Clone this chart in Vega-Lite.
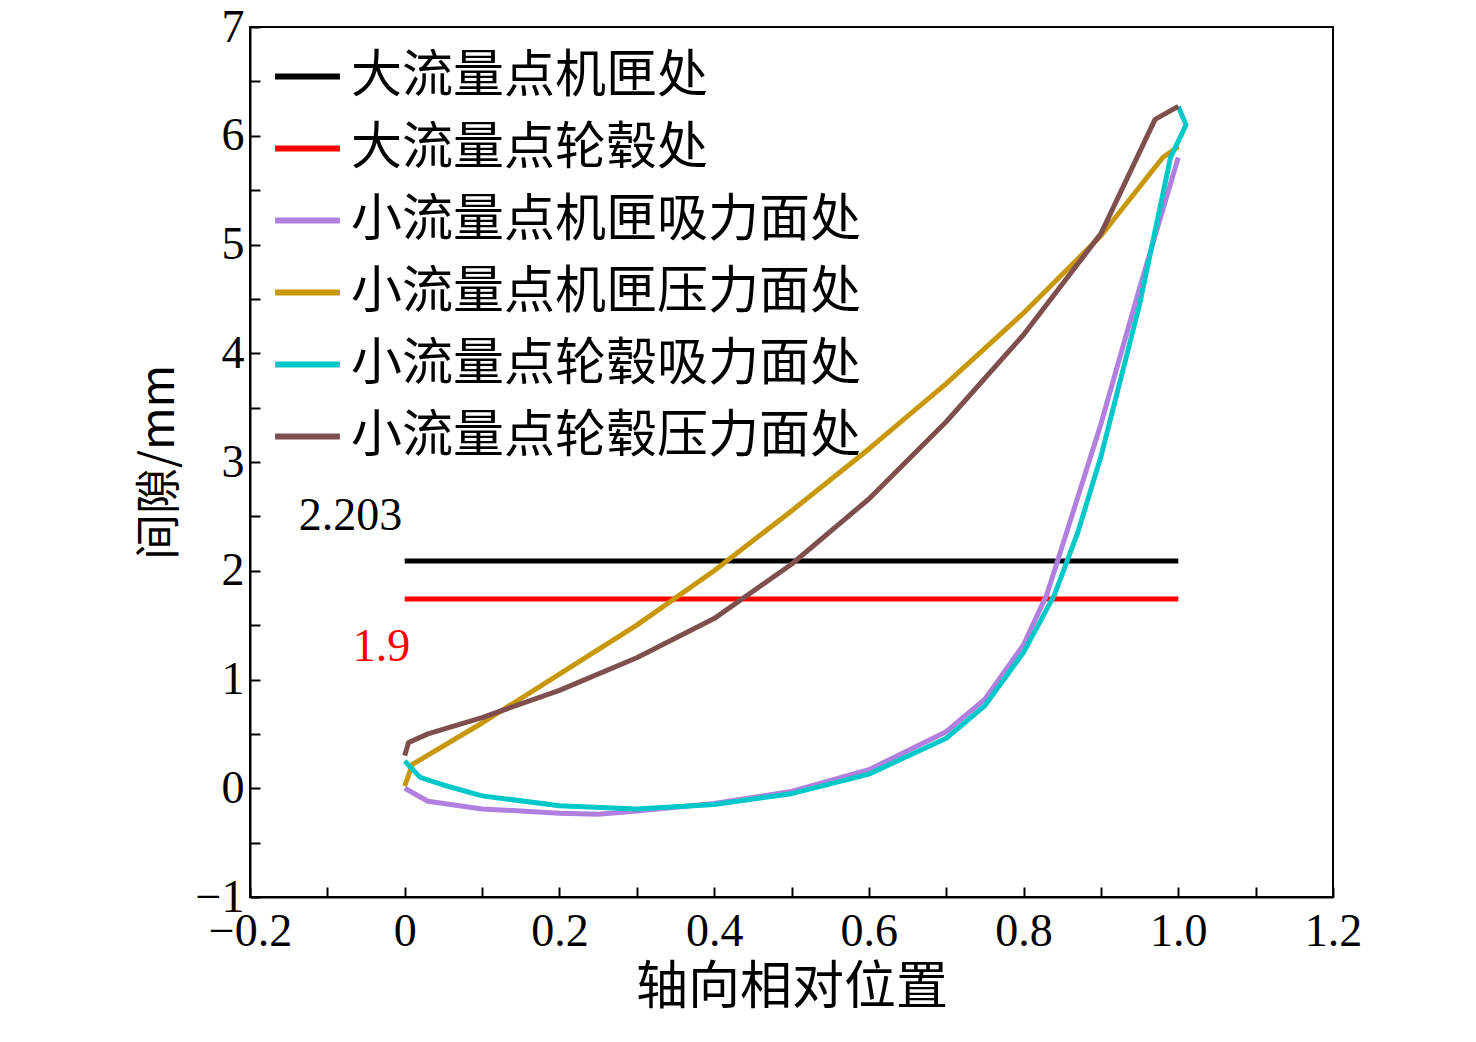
{
"$schema":"https://vega.github.io/schema/vega-lite/v6.json",
"width":1083,"height":870,
"autosize":{"type":"none"},
"padding":{"left":250,"top":27,"right":143,"bottom":145},
"background":"white",
"config":{"view":{"stroke":"black","strokeWidth":2},"font":"Liberation Serif"},
"datasets":{
"lines":[
{"s":"大流量点机匣处","i":0,"x":0,"y":2.09},{"s":"大流量点机匣处","i":1,"x":1,"y":2.09},
{"s":"大流量点轮毂处","i":0,"x":0,"y":1.74},{"s":"大流量点轮毂处","i":1,"x":1,"y":1.74},
{"s":"小流量点机匣吸力面处","i":0,"x":0,"y":0.0},{"s":"小流量点机匣吸力面处","i":1,"x":0.03,"y":-0.12},{"s":"小流量点机匣吸力面处","i":2,"x":0.1,"y":-0.19},{"s":"小流量点机匣吸力面处","i":3,"x":0.2,"y":-0.23},{"s":"小流量点机匣吸力面处","i":4,"x":0.25,"y":-0.24},{"s":"小流量点机匣吸力面处","i":5,"x":0.3,"y":-0.21},{"s":"小流量点机匣吸力面处","i":6,"x":0.4,"y":-0.14},{"s":"小流量点机匣吸力面处","i":7,"x":0.5,"y":-0.03},{"s":"小流量点机匣吸力面处","i":8,"x":0.6,"y":0.17},{"s":"小流量点机匣吸力面处","i":9,"x":0.7,"y":0.52},{"s":"小流量点机匣吸力面处","i":10,"x":0.75,"y":0.82},{"s":"小流量点机匣吸力面处","i":11,"x":0.8,"y":1.32},{"s":"小流量点机匣吸力面处","i":12,"x":0.83,"y":1.78},{"s":"小流量点机匣吸力面处","i":13,"x":0.86,"y":2.45},{"s":"小流量点机匣吸力面处","i":14,"x":0.9,"y":3.35},{"s":"小流量点机匣吸力面处","i":15,"x":0.95,"y":4.6},{"s":"小流量点机匣吸力面处","i":16,"x":1.0,"y":5.8},
{"s":"小流量点机匣压力面处","i":0,"x":0,"y":0.02},{"s":"小流量点机匣压力面处","i":1,"x":0.01,"y":0.22},{"s":"小流量点机匣压力面处","i":2,"x":0.1,"y":0.6},{"s":"小流量点机匣压力面处","i":3,"x":0.2,"y":1.05},{"s":"小流量点机匣压力面处","i":4,"x":0.3,"y":1.5},{"s":"小流量点机匣压力面处","i":5,"x":0.4,"y":2.0},{"s":"小流量点机匣压力面处","i":6,"x":0.5,"y":2.55},{"s":"小流量点机匣压力面处","i":7,"x":0.6,"y":3.12},{"s":"小流量点机匣压力面处","i":8,"x":0.7,"y":3.72},{"s":"小流量点机匣压力面处","i":9,"x":0.8,"y":4.37},{"s":"小流量点机匣压力面处","i":10,"x":0.9,"y":5.08},{"s":"小流量点机匣压力面处","i":11,"x":0.98,"y":5.8},{"s":"小流量点机匣压力面处","i":12,"x":1.0,"y":5.9},
{"s":"小流量点轮毂吸力面处","i":0,"x":0,"y":0.25},{"s":"小流量点轮毂吸力面处","i":1,"x":0.02,"y":0.1},{"s":"小流量点轮毂吸力面处","i":2,"x":0.05,"y":0.03},{"s":"小流量点轮毂吸力面处","i":3,"x":0.1,"y":-0.07},{"s":"小流量点轮毂吸力面处","i":4,"x":0.2,"y":-0.16},{"s":"小流量点轮毂吸力面处","i":5,"x":0.3,"y":-0.19},{"s":"小流量点轮毂吸力面处","i":6,"x":0.4,"y":-0.15},{"s":"小流量点轮毂吸力面处","i":7,"x":0.5,"y":-0.05},{"s":"小流量点轮毂吸力面处","i":8,"x":0.6,"y":0.13},{"s":"小流量点轮毂吸力面处","i":9,"x":0.7,"y":0.46},{"s":"小流量点轮毂吸力面处","i":10,"x":0.75,"y":0.76},{"s":"小流量点轮毂吸力面处","i":11,"x":0.8,"y":1.25},{"s":"小流量点轮毂吸力面处","i":12,"x":0.84,"y":1.78},{"s":"小流量点轮毂吸力面处","i":13,"x":0.87,"y":2.35},{"s":"小流量点轮毂吸力面处","i":14,"x":0.9,"y":3.05},{"s":"小流量点轮毂吸力面处","i":15,"x":0.95,"y":4.45},{"s":"小流量点轮毂吸力面处","i":16,"x":0.99,"y":5.8},{"s":"小流量点轮毂吸力面处","i":17,"x":1.01,"y":6.1},{"s":"小流量点轮毂吸力面处","i":18,"x":1.0,"y":6.27},
{"s":"小流量点轮毂压力面处","i":0,"x":0,"y":0.3},{"s":"小流量点轮毂压力面处","i":1,"x":0.005,"y":0.42},{"s":"小流量点轮毂压力面处","i":2,"x":0.03,"y":0.5},{"s":"小流量点轮毂压力面处","i":3,"x":0.1,"y":0.65},{"s":"小流量点轮毂压力面处","i":4,"x":0.2,"y":0.9},{"s":"小流量点轮毂压力面处","i":5,"x":0.3,"y":1.2},{"s":"小流量点轮毂压力面处","i":6,"x":0.4,"y":1.56},{"s":"小流量点轮毂压力面处","i":7,"x":0.5,"y":2.06},{"s":"小流量点轮毂压力面处","i":8,"x":0.6,"y":2.66},{"s":"小流量点轮毂压力面处","i":9,"x":0.7,"y":3.37},{"s":"小流量点轮毂压力面处","i":10,"x":0.8,"y":4.17},{"s":"小流量点轮毂压力面处","i":11,"x":0.9,"y":5.1},{"s":"小流量点轮毂压力面处","i":12,"x":0.97,"y":6.15},{"s":"小流量点轮毂压力面处","i":13,"x":1.0,"y":6.27}
],
"labels":[{"x":-0.07,"y":2.5,"t":"2.203","c":"black"},{"x":-0.03,"y":1.3,"t":"1.9","c":"red"}]
},
"layer":[
{"data":{"name":"lines"},"mark":{"type":"line","strokeWidth":5,"clip":true,"strokeJoin":"round"},
"encoding":{
"x":{"field":"x","type":"quantitative","scale":{"domain":[-0.2,1.2],"nice":false},
"axis":{"title":"轴向相对位置","titleFont":"Noto Sans CJK SC","titleFontSize":52,"titleFontWeight":"normal","titleColor":"black","titlePadding":8,"values":[-0.2,-0.1,0,0.1,0.2,0.3,0.4,0.5,0.6,0.7,0.8,0.9,1.0,1.1,1.2],"labelExpr":"abs(round(datum.value*10))%2==1 ? '' : (datum.value==0 ? '0' : replace(format(datum.value,'.1f'),'-','−'))","labelFontSize":46,"labelColor":"black","labelFont":"Liberation Serif","grid":false,"domainColor":"black","domainWidth":2,"tickColor":"black","tickWidth":2,"tickSize":-10,"labelPadding":22,"labelFlush":false,"labelOverlap":false}},
"y":{"field":"y","type":"quantitative","scale":{"domain":[-1,7],"nice":false},
"axis":{"title":"间隙/mm","titleFont":"Noto Sans CJK SC","titleFontSize":46,"titleFontWeight":"normal","titleColor":"black","titlePadding":12,"values":[-1,-0.5,0,0.5,1,1.5,2,2.5,3,3.5,4,4.5,5,5.5,6,6.5,7],"labelExpr":"datum.value%1!=0 ? '' : replace(format(datum.value,'d'),'-','−')","labelFontSize":46,"labelColor":"black","labelFont":"Liberation Serif","grid":false,"domainColor":"black","domainWidth":2,"tickColor":"black","tickWidth":2,"tickSize":-10,"labelPadding":16,"labelOverlap":false}},
"color":{"field":"s","type":"nominal","sort":["大流量点机匣处","大流量点轮毂处","小流量点机匣吸力面处","小流量点机匣压力面处","小流量点轮毂吸力面处","小流量点轮毂压力面处"],
"scale":{"range":["#000000","#ff0000","#b07fdf","#c8980a","#00c8c8","#7f4f4f"]},
"legend":{"title":null,"orient":"none","legendX":22,"legendY":14,"labelFont":"Noto Sans CJK SC","labelFontSize":51,"labelColor":"black","symbolType":"stroke","symbolStrokeWidth":6,"symbolSize":4200,"rowPadding":11,"labelLimit":900,"labelOffset":8}},
"order":{"field":"i","type":"quantitative"}}},
{"data":{"name":"labels"},"mark":{"type":"text","fontSize":46,"font":"Liberation Serif"},
"encoding":{"x":{"field":"x","type":"quantitative"},"y":{"field":"y","type":"quantitative"},"text":{"field":"t"},"color":{"field":"c","type":"nominal","scale":null}}}
]
}
